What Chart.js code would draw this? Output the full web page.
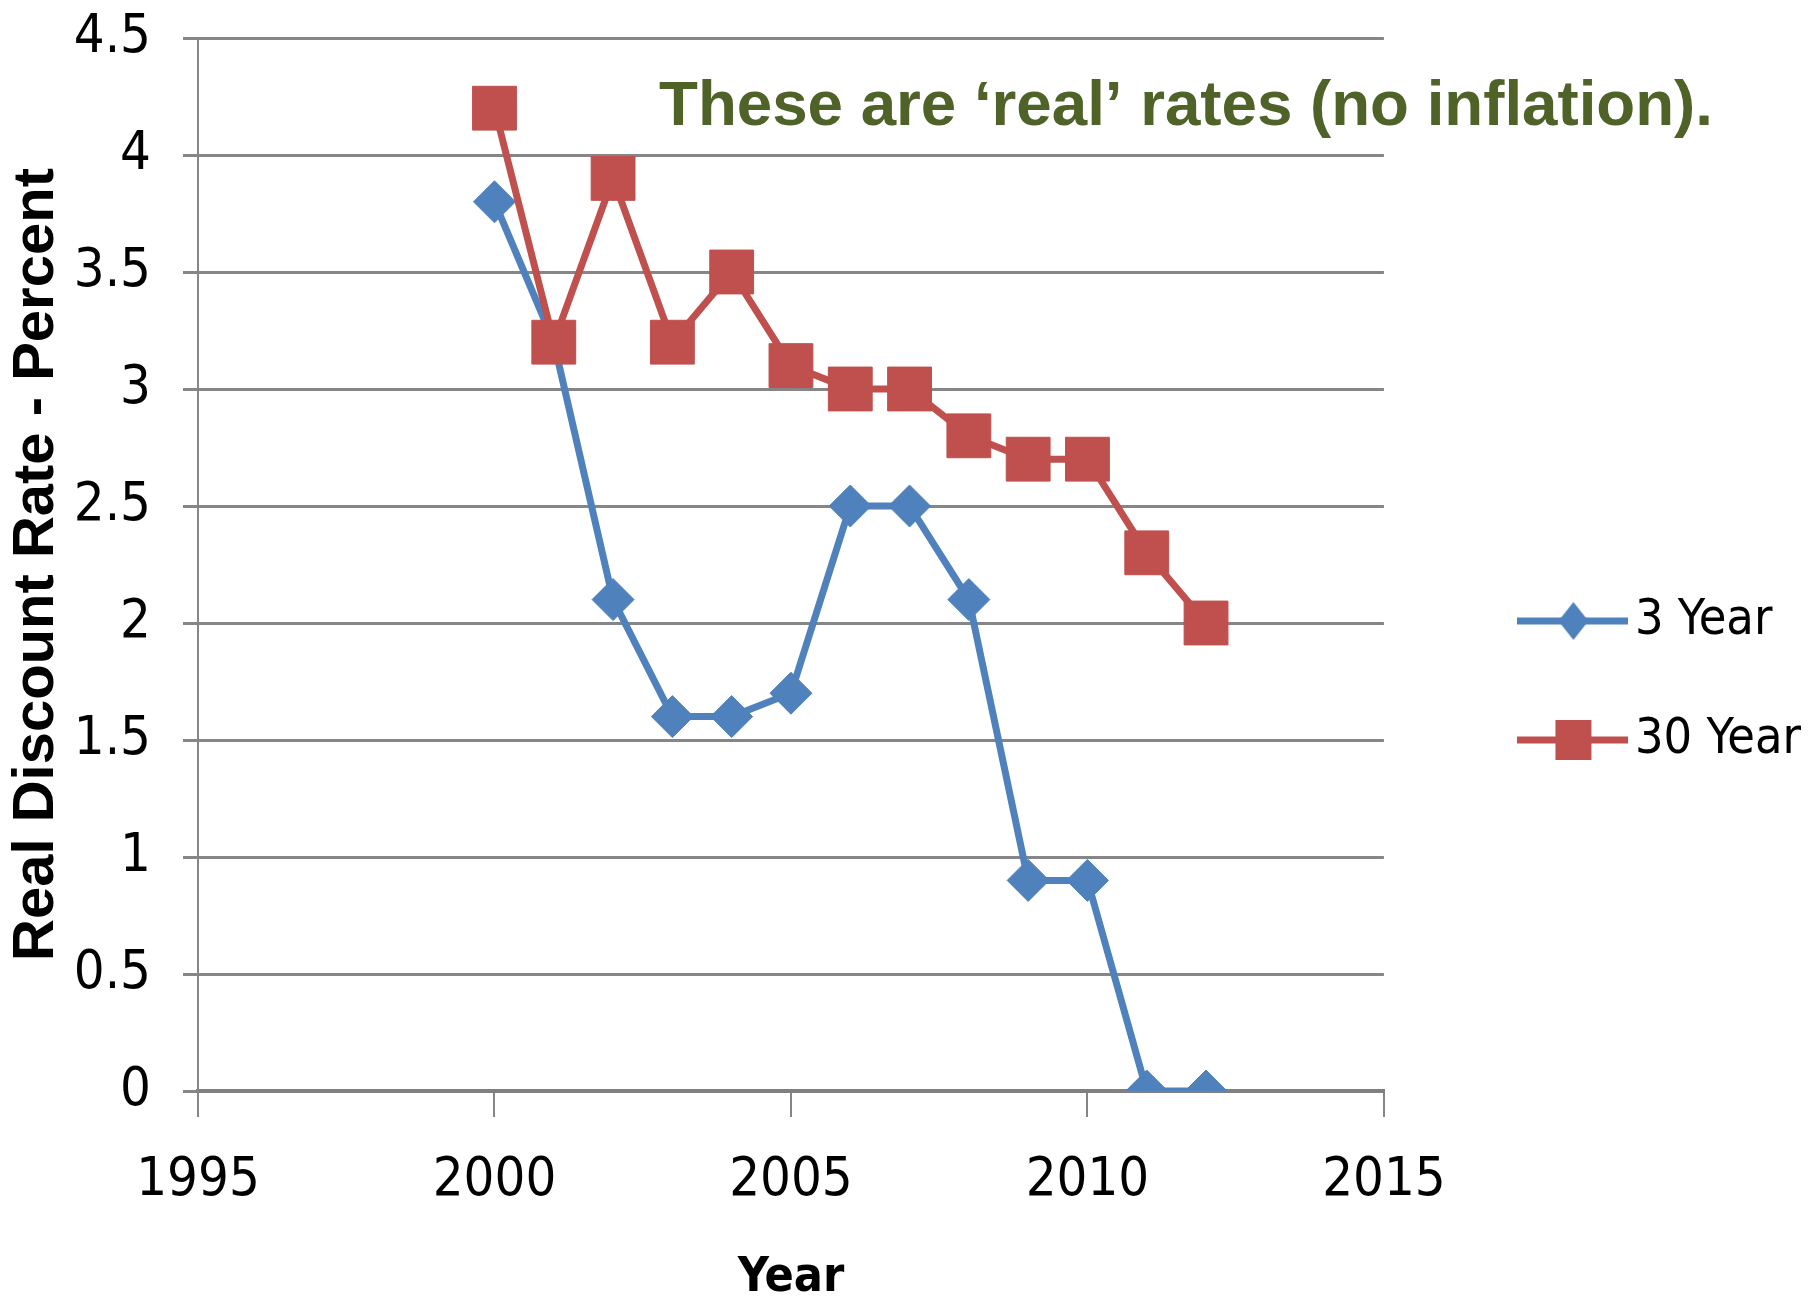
<!DOCTYPE html>
<html>
<head>
<meta charset="utf-8">
<script src="https://cdn.jsdelivr.net/npm/chart.js@4.4.0/dist/chart.umd.min.js"></script>
<style>
  body { margin: 0; background: #fff; }
  #wrap { width: 1820px; height: 1303px; }
</style>
</head>
<body>
<div id="wrap"><canvas id="myChart" width="1820" height="1303"></canvas></div>
<script>
// data
const years = [2000, 2001, 2002, 2003, 2004, 2005, 2006, 2007, 2008, 2009, 2010, 2011, 2012];
const threeYear = [3.8, 3.2, 2.1, 1.6, 1.6, 1.7, 2.5, 2.5, 2.1, 0.9, 0.9, 0, 0];
const thirtyYear = [4.2, 3.2, 3.9, 3.2, 3.5, 3.1, 3.0, 3.0, 2.8, 2.7, 2.7, 2.3, 2.0];
const xTicks = [1995, 2000, 2005, 2010, 2015];
const yTicks = [0, 0.5, 1, 1.5, 2, 2.5, 3, 3.5, 4, 4.5];
const seriesNames = ['3 Year', '30 Year'];
const note = 'These are \u2018real\u2019 rates (no inflation).';

const blue = '#4F81BD';
const red = '#C0504D';
const grey = '#868686';
const narrow = '"DejaVu Sans Condensed", "Liberation Sans", sans-serif';

// legend icons: line with the marker in the middle
function legendIcon(color, shape) {
  const c = document.createElement('canvas');
  c.width = 111; c.height = 50;
  const g = c.getContext('2d');
  g.strokeStyle = color;
  g.lineWidth = 7;
  g.beginPath(); g.moveTo(0, 25); g.lineTo(111, 25); g.stroke();
  g.fillStyle = color;
  g.beginPath();
  if (shape === 'diamond') {
    g.moveTo(56, 6); g.lineTo(71, 25); g.lineTo(56, 44); g.lineTo(41, 25);
  } else {
    g.rect(38, 5, 36, 40);
  }
  g.closePath(); g.fill();
  return c;
}
const icons = [legendIcon(blue, 'diamond'), legendIcon(red, 'square')];

const notePlugin = {
  id: 'note',
  afterDraw(chart) {
    const ctx = chart.ctx;
    ctx.save();
    ctx.font = 'bold 63px "Liberation Sans", Arial, sans-serif';
    ctx.fillStyle = '#4F6228';
    ctx.textBaseline = 'alphabetic';
    const w = ctx.measureText(note).width;
    ctx.translate(659, 125);
    ctx.scale(1054 / w, 1);
    ctx.fillText(note, 0, 0);
    ctx.restore();
  }
};

function noPad(s) {
  s.paddingTop = 0; s.paddingBottom = 0; s.paddingLeft = 0; s.paddingRight = 0;
}

const ctx = document.getElementById('myChart').getContext('2d');
new Chart(ctx, {
  type: 'line',
  data: {
    datasets: [{
      label: seriesNames[0],
      data: years.map((y, i) => ({x: y, y: threeYear[i]})),
      borderColor: blue,
      backgroundColor: blue,
      borderWidth: 7,
      pointStyle: 'rectRot',
      pointRadius: 21,
      pointBorderWidth: 1,
      pointBackgroundColor: blue,
      pointBorderColor: blue,
      tension: 0,
      order: 1
    }, {
      label: seriesNames[1],
      data: years.map((y, i) => ({x: y, y: thirtyYear[i]})),
      borderColor: red,
      backgroundColor: red,
      borderWidth: 7,
      pointStyle: 'rect',
      pointRadius: 31,
      pointBorderWidth: 1,
      pointBackgroundColor: red,
      pointBorderColor: red,
      tension: 0,
      order: 0
    }]
  },
  options: {
    responsive: false,
    animation: false,
    layout: { padding: { top: 38, right: 9, bottom: 0, left: 0 } },
    plugins: {
      tooltip: { enabled: false },
      legend: {
        position: 'right',
        align: 'center',
        maxWidth: 600,
        title: { display: true, text: '', font: { size: 10 }, padding: 4 },
        labels: {
          usePointStyle: true,
          pointStyleWidth: 74,
          padding: 69,
          color: '#000',
          font: { family: narrow, size: 50 },
          sort: (a, b) => a.datasetIndex - b.datasetIndex,
          generateLabels(chart) {
            const items = Chart.defaults.plugins.legend.labels.generateLabels(chart);
            items.forEach(it => { it.pointStyle = icons[it.datasetIndex]; });
            return items;
          }
        }
      }
    },
    scales: {
      x: {
        type: 'linear',
        min: 1995,
        max: 2015,
        afterBuildTicks: s => { s.ticks = xTicks.map(v => ({value: v})); },
        afterFit: s => { s.height = 212; noPad(s); },
        ticks: {
          color: '#000',
          padding: 32,
          font: { family: narrow, size: 54 },
          callback: v => String(v)
        },
        grid: { drawOnChartArea: false, drawTicks: true, tickLength: 26, color: grey, lineWidth: 2 },
        border: { display: true, color: '#808080', width: 4 },
        title: {
          display: true,
          text: 'Year',
          color: '#000',
          padding: { top: 0, bottom: 0 },
          font: { family: narrow, size: 48, weight: 'bold', lineHeight: 1 }
        }
      },
      y: {
        min: 0,
        max: 4.5,
        afterBuildTicks: s => { s.ticks = yTicks.map(v => ({value: v})); },
        afterFit: s => { s.width = 198; noPad(s); },
        ticks: {
          color: '#000',
          padding: 32,
          font: { family: narrow, size: 54 },
          callback: v => String(v)
        },
        grid: { color: grey, lineWidth: 3, tickLength: 15 },
        border: { display: true, color: grey, width: 2 },
        title: {
          display: true,
          text: 'Real Discount Rate - Percent',
          color: '#000',
          padding: { top: 2, bottom: 0 },
          font: { family: '"Liberation Sans", Arial, sans-serif', size: 58, weight: 'bold' }
        }
      },
      pad: {
        type: 'linear',
        position: 'right',
        display: true,
        afterFit: s => { s.width = 83; noPad(s); },
        ticks: { display: false },
        grid: { display: false },
        border: { display: false }
      }
    }
  },
  plugins: [notePlugin]
});
</script>
</body>
</html>
